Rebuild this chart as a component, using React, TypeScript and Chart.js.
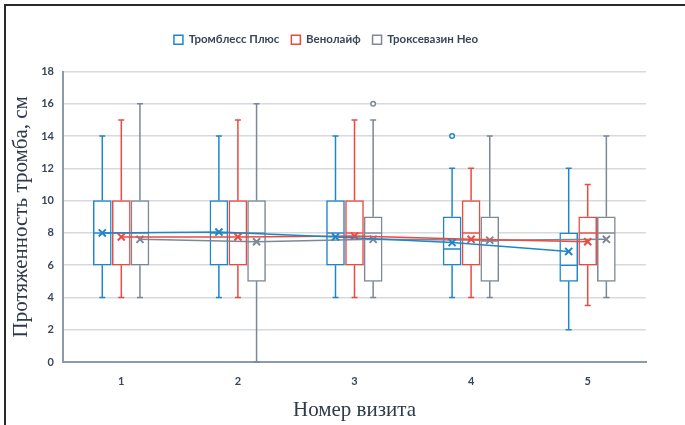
import React, { useEffect, useRef } from 'react';
import { Chart, registerables } from 'chart.js';

Chart.register(...registerables);

// ---- Data ----
const xCategories = [1, 2, 3, 4, 5];
const yTickValues = [0, 2, 4, 6, 8, 10, 12, 14, 16, 18];
const seriesNames = ['Тромблесс Плюс', 'Венолайф', 'Троксевазин Нео'];
const seriesColors = ['#1f87c9', '#ec4a40', '#7d8897'];

const blueMin = [4, 4, 4, 4, 2];
const blueQ1 = [6, 6, 6, 6, 5];
const blueMedian = [8, 8, 8, 7, 6];
const blueQ3 = [10, 10, 10, 9, 8];
const blueMax = [14, 14, 14, 12, 12];
const blueMean = [8.0, 8.05, 7.75, 7.4, 6.85];
const blueOutliers = [[4, 14]];

const redMin = [4, 4, 4, 4, 3.5];
const redQ1 = [6, 6, 6, 6, 6];
const redMedian = [8, 8, 8, 8, 8];
const redQ3 = [10, 10, 10, 10, 9];
const redMax = [15, 15, 15, 12, 11];
const redMean = [7.75, 7.75, 7.8, 7.6, 7.45];
const redOutliers: number[][] = [];

const grayMin = [4, 0, 4, 4, 4];
const grayQ1 = [6, 5, 5, 5, 5];
const grayMedian = [8, 8, 8, 7.5, 8];
const grayQ3 = [10, 10, 9, 9, 9];
const grayMax = [16, 16, 15, 14, 14];
const grayMean = [7.6, 7.45, 7.6, 7.55, 7.6];
const grayOutliers = [[3, 16]];

const seriesOffsets = [-0.163, 0, 0.16];

const stats = [
  { min: blueMin, q1: blueQ1, median: blueMedian, q3: blueQ3, max: blueMax, mean: blueMean, outliers: blueOutliers },
  { min: redMin, q1: redQ1, median: redMedian, q3: redQ3, max: redMax, mean: redMean, outliers: redOutliers },
  { min: grayMin, q1: grayQ1, median: grayMedian, q3: grayQ3, max: grayMax, mean: grayMean, outliers: grayOutliers },
];

const BOX_W = 18;

const whiskerPlugin = {
  id: 'whiskers',
  afterDatasetDraw(chart: any, args: any) {
    const ds = chart.data.datasets[args.index];
    if (!ds.boxStats) return;
    const { ctx } = chart;
    const x = chart.scales.x;
    const y = chart.scales.y;
    const st = ds.boxStats;
    ctx.save();
    ctx.strokeStyle = ds.borderColor;
    ctx.lineWidth = 1.5;
    xCategories.forEach((c, i) => {
      const px = x.getPixelForValue(c + ds.boxOffset);
      const pMin = y.getPixelForValue(st.min[i]);
      const pQ1 = y.getPixelForValue(st.q1[i]);
      const pMed = y.getPixelForValue(st.median[i]);
      const pQ3 = y.getPixelForValue(st.q3[i]);
      const pMax = y.getPixelForValue(st.max[i]);
      ctx.beginPath();
      ctx.moveTo(px, pQ3);
      ctx.lineTo(px, pMax);
      ctx.moveTo(px, pQ1);
      ctx.lineTo(px, pMin);
      ctx.moveTo(px - 3, pMax);
      ctx.lineTo(px + 3, pMax);
      ctx.moveTo(px - 3, pMin);
      ctx.lineTo(px + 3, pMin);
      ctx.moveTo(px - BOX_W / 2 + 0.75, pMed);
      ctx.lineTo(px + BOX_W / 2 - 0.75, pMed);
      ctx.stroke();
    });
    ctx.restore();
  },
};

const framePlugin = {
  id: 'frame',
  afterDraw(chart: any) {
    const { ctx } = chart;
    ctx.save();
    ctx.fillStyle = '#2a2a2a';
    ctx.fillRect(4, 4, 681, 2);
    ctx.fillRect(4, 4, 2, 421);
    ctx.restore();
  },
};

const legendSpacePlugin = {
  id: 'legendSpace',
  beforeLayout(chart: any) {
    const lg = chart.legend;
    if (lg && !lg.__patched) {
      const orig = lg.fit.bind(lg);
      lg.fit = () => {
        orig();
        lg.height += 16;
      };
      lg.__patched = true;
    }
  },
};

export default function App() {
  const canvasRef = useRef<HTMLCanvasElement | null>(null);

  useEffect(() => {
    document.body.style.margin = '0';
    const canvas = canvasRef.current;
    if (!canvas) return;

    const boxDatasets = stats.map((s, k) => ({
      type: 'bar' as const,
      label: seriesNames[k],
      data: xCategories.map((c, i) => ({ x: c + seriesOffsets[k], y: [s.q1[i], s.q3[i]] })),
      backgroundColor: '#ffffff',
      borderColor: seriesColors[k],
      borderWidth: 1.5,
      borderSkipped: false,
      grouped: false,
      barThickness: BOX_W,
      order: 3,
      boxStats: s,
      boxOffset: seriesOffsets[k],
    }));

    const meanDatasets = stats.map((s, k) => ({
      type: 'line' as const,
      label: 'mean-' + k,
      data: xCategories.map((c, i) => ({ x: c + seriesOffsets[k], y: s.mean[i] })),
      borderColor: seriesColors[k],
      backgroundColor: seriesColors[k],
      borderWidth: 1.5,
      pointStyle: 'crossRot',
      pointRadius: 5,
      pointBorderWidth: 2,
      pointBorderColor: seriesColors[k],
      fill: false,
      tension: 0,
      order: 1,
    }));

    const outlierDatasets = stats.map((s, k) => ({
      type: 'scatter' as const,
      label: 'out-' + k,
      data: s.outliers.map((o) => ({ x: o[0] + seriesOffsets[k], y: o[1] })),
      borderColor: seriesColors[k],
      backgroundColor: '#ffffff',
      pointRadius: 2.3,
      pointBorderWidth: 1.5,
      order: 2,
    }));

    const chart = new Chart(canvas, {
      type: 'bar',
      data: { datasets: [...boxDatasets, ...meanDatasets, ...outlierDatasets] as any },
      options: {
        responsive: false,
        animation: false,
        layout: { padding: { top: 22, left: 6, right: 39, bottom: 0 } },
        font: { family: 'Lato' },
        plugins: {
          tooltip: { enabled: false },
          legend: {
            position: 'top',
            labels: {
              boxWidth: 9,
              boxHeight: 9,
              padding: 12,
              color: '#3a4557',
              font: { family: 'Lato', size: 11.5, weight: 'bold' },
              filter: (item: any) => item.datasetIndex < 3,
            },
          },
        },
        scales: {
          x: {
            type: 'linear',
            offset: false,
            min: 0.5,
            max: 5.5,
            afterBuildTicks: (s: any) => {
              s.ticks = xCategories.map((v) => ({ value: v }));
            },
            afterFit: (s: any) => {
              s.height = 63;
            },
            grid: { display: false, drawTicks: false, offset: false },
            border: { display: true, color: '#8e9aa8', width: 2 },
            ticks: {
              padding: 13,
              color: '#3a4557',
              font: { family: 'Lato', size: 11, weight: 'bold' },
              callback: (v: any) => String(v),
            },
            title: {
              display: true,
              text: 'Номер визита',
              color: '#2e3a4c',
              font: { family: 'Liberation Serif', size: 21 },
              padding: { top: 0, bottom: 2 },
            },
          },
          y: {
            min: 0,
            max: 18,
            afterBuildTicks: (s: any) => {
              s.ticks = yTickValues.map((v) => ({ value: v }));
            },
            afterFit: (s: any) => {
              s.width = 57;
            },
            grid: { color: '#d6dadf', lineWidth: 1.5, drawTicks: false },
            border: { display: true, color: '#8e9aa8', width: 2 },
            ticks: {
              padding: 9,
              color: '#3a4557',
              font: { family: 'Lato', size: 11, weight: 'bold' },
            },
            title: {
              display: true,
              text: 'Протяженность тромба, см',
              color: '#2e3a4c',
              font: { family: 'Liberation Serif', size: 21 },
              padding: { top: 3, bottom: 0 },
            },
          },
        },
      } as any,
      plugins: [whiskerPlugin, framePlugin, legendSpacePlugin],
    });

    return () => {
      chart.destroy();
    };
  }, []);

  return (
    <div style={{ width: 685, height: 425, background: '#ffffff' }}>
      <canvas ref={canvasRef} width={685} height={425} />
    </div>
  );
}
